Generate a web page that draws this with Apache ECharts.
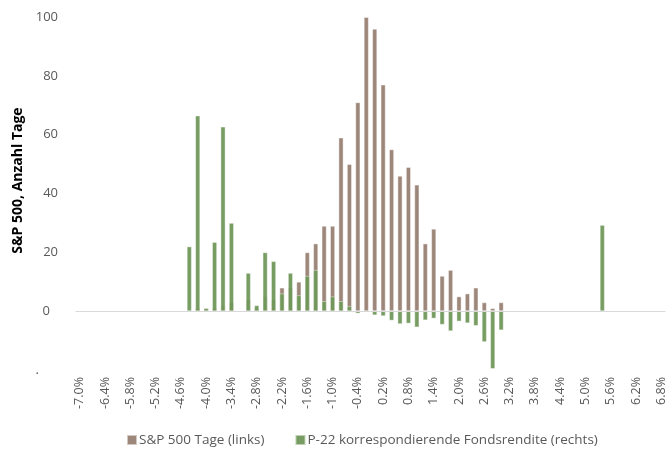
<!DOCTYPE html>
<html>
<head>
<meta charset="utf-8">
<script src="https://cdn.jsdelivr.net/npm/echarts@6/dist/echarts.min.js"></script>
<style>
html,body{margin:0;padding:0;background:#fff;}
#chart{width:670px;height:458px;}
</style>
</head>
<body>
<div id="chart"></div>
<script>
const categories = ["-7.0%","-6.8%","-6.6%","-6.4%","-6.2%","-6.0%","-5.8%","-5.6%","-5.4%","-5.2%",
"-5.0%","-4.8%","-4.6%","-4.4%","-4.2%","-4.0%","-3.8%","-3.6%","-3.4%","-3.2%",
"-3.0%","-2.8%","-2.6%","-2.4%","-2.2%","-2.0%","-1.8%","-1.6%","-1.4%","-1.2%",
"-1.0%","-0.8%","-0.6%","-0.4%","-0.2%","0.0%","0.2%","0.4%","0.6%","0.8%",
"1.0%","1.2%","1.4%","1.6%","1.8%","2.0%","2.2%","2.4%","2.6%","2.8%",
"3.0%","3.2%","3.4%","3.6%","3.8%","4.0%","4.2%","4.4%","4.6%","4.8%",
"5.0%","5.2%","5.4%","5.6%","5.8%","6.0%","6.2%","6.4%","6.6%","6.8%"];

const spxDays = [0,0,0,0,0,0,0,0,0,0,
0,0,0,0,1,1,1,2,3,0,
4,1,5,4,8,8,10,20,23,29,
29,59,50,71,100,96,77,55,46,49,
43,23,28,12,14,5,6,8,3,1,
3,0,0,0,0,0,0,0,0,0,
0,0,0,0,0,0,0,0,0,0];

const fundReturn = [0,0,0,0,0,0,0,0,0,0,
0,0,0,22,66.5,1,23.5,62.7,30,0,
13,2,20,17,6,13,5.4,12,14,3.4,
5,3.4,1.7,-0.8,-0.3,-1.4,-1.7,-3.2,-4.4,-4.2,
-5.5,-3.1,-2.5,-4.6,-6.8,-3.5,-4.1,-5,-10.5,-19.6,
-6.5,0,0,0,0,0,0,0,0,0,
0,0,29.3,0,0,0,0,0,0,0];

const yTicks = {min: -20, max: 100, interval: 20};
const seriesNames = ["S&P 500 Tage (links)", "P-22 korrespondierende Fondsrendite (rechts)"];
const yAxisTitle = "S&P 500, Anzahl Tage";

const chart = echarts.init(document.getElementById('chart'), null, {renderer: 'canvas'});
const font = "'Open Sans', 'Noto Sans', sans-serif";
chart.setOption({
  animation: false,
  textStyle: {fontFamily: font},
  grid: {left: 75.5, right: 4.5, top: 17, bottom: 88, containLabel: false},
  legend: {
    left: 121, bottom: 6, itemWidth: 10, itemHeight: 10, itemGap: 30, icon: 'rect',
    textStyle: {color: '#595959', fontSize: 13.5, fontFamily: font, padding: [0, 0, 0, -3]},
    data: seriesNames
  },
  xAxis: {
    type: 'category', data: categories,
    axisLine: {show: false}, axisTick: {show: false},
    axisLabel: {interval: 2, rotate: 90, color: '#595959', fontSize: 12.5, margin: 7, fontFamily: font}
  },
  yAxis: [{
    type: 'value', min: yTicks.min, max: yTicks.max, interval: yTicks.interval,
    splitLine: {show: false}, axisLine: {show: false}, axisTick: {show: false},
    name: yAxisTitle, nameLocation: 'middle', nameGap: 50, nameRotate: 90,
    nameTextStyle: {color: '#000', fontSize: 14, fontWeight: 'bold', fontFamily: font, padding: [0, 0, 0, 26]},
    axisLabel: {
      color: '#595959', fontSize: 13, margin: 17.5, fontFamily: font,
      formatter: function (v) {
        if (v === 0) return '{z|0}';
        if (v < 0) return '{d|.}';
        return String(v);
      },
      rich: {
        z: {color: '#595959', fontSize: 13, fontFamily: font, padding: [0, 8, 0, 0]},
        d: {color: '#595959', fontSize: 13, fontFamily: font, padding: [0, 19, 0, 0]}
      }
    }
  }, {
    type: 'value', min: yTicks.min, max: yTicks.max, interval: yTicks.interval, show: false,
    splitLine: {show: false}
  }],
  series: [{
    name: seriesNames[0], type: 'bar', data: spxDays, yAxisIndex: 0,
    barWidth: 5, barGap: '-100%',
    itemStyle: {color: '#9d877a', borderColor: 'rgba(255,255,255,0.55)', borderWidth: 0.8},
    markLine: {
      silent: true, symbol: 'none', label: {show: false},
      lineStyle: {color: '#d9d9d9', width: 1, type: 'solid'},
      data: [{yAxis: 0}]
    }
  }, {
    name: seriesNames[1], type: 'bar', data: fundReturn, yAxisIndex: 1,
    barWidth: 5, barGap: '-100%',
    itemStyle: {color: '#70985a', opacity: 0.95, borderColor: 'rgba(255,255,255,0.55)', borderWidth: 0.8}
  }]
});
</script>
</body>
</html>
